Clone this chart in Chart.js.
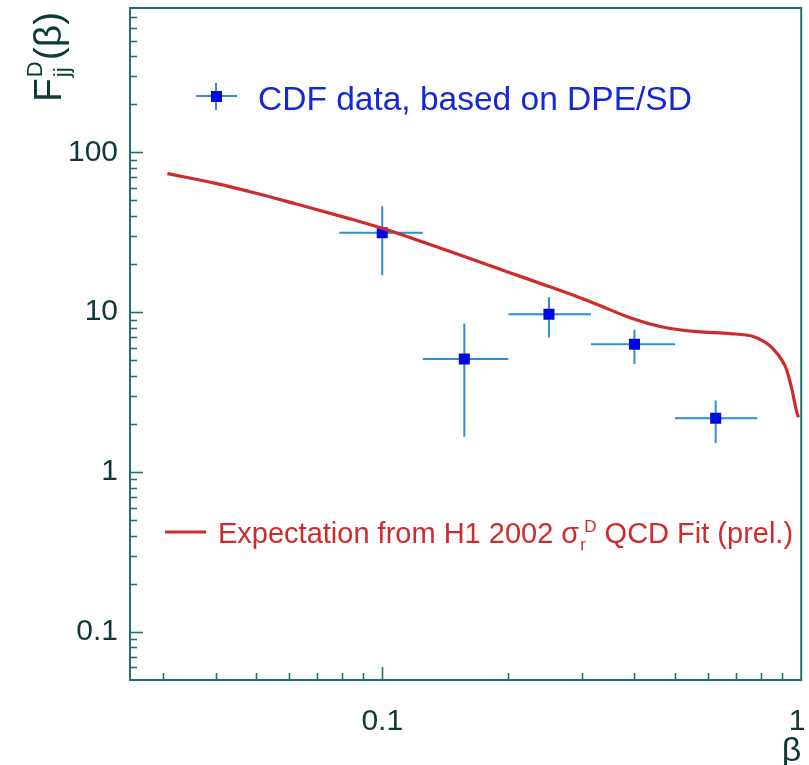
<!DOCTYPE html>
<html>
<head>
<meta charset="utf-8">
<script src="https://cdn.jsdelivr.net/npm/chart.js@4.4.0/dist/chart.umd.min.js"></script>
<style>
  html, body { margin: 0; padding: 0; background: #fff; }
  #wrap { width: 809px; height: 765px; }
</style>
</head>
<body>
<div id="wrap"><canvas id="fjjChart"></canvas></div>
<script>
// CDF data points (bin centres in beta) with bin edges and error range
const betaPoints = [0.1, 0.157, 0.25, 0.4, 0.625];
const fPoints = [31.4, 5.1, 9.7, 6.3, 2.17];
const betaLow = [0.079, 0.125, 0.2, 0.315, 0.5];
const betaHigh = [0.125, 0.2, 0.315, 0.5, 0.785];
const fLow = [17.0, 1.66, 6.95, 4.74, 1.52];
const fHigh = [46.0, 8.5, 12.4, 7.76, 2.8];

// H1 2002 QCD fit expectation
const curveBeta = [0.0307, 0.04, 0.05, 0.0624, 0.0835, 0.1, 0.125, 0.157, 0.2, 0.25,
                   0.315, 0.392, 0.47, 0.564, 0.676, 0.768, 0.82, 0.857, 0.9, 0.922,
                   0.95, 0.973, 0.985];
const curveF = [73.6, 64, 55.5, 47.5, 38.5, 33.5, 27.5, 22.3, 17.8, 14.5,
                11.6, 9.2, 8.05, 7.55, 7.35, 7.05, 6.5, 5.9, 5.0, 4.4,
                3.3, 2.45, 2.2];

const xTicks = [0.1, 1];
const xTickLabels = ['0.1', '1 '];
const yTicks = [0.1, 1, 10, 100];

const axisColor = '#23706f';
const textColor = '#0f3837';
const pointBlue = '#0008e0';
const barBlue = '#2d8ed2';
const fitRed = '#cf2a2c';

const font = 'Liberation Sans, Arial, Helvetica, sans-serif';

// frame around the plot and inward ticks on the left and bottom
const frameTicks = {
    id: 'frameTicks',
    afterDraw(chart) {
        const { ctx, chartArea: a, scales: { x, y } } = chart;
        ctx.save();
        ctx.strokeStyle = axisColor;
        ctx.lineWidth = 1.6;
        for (let e = -2; e <= 3; e++) {
            for (let m = 1; m <= 9; m++) {
                const v = m * Math.pow(10, e);
                const len = m === 1 ? 13 : 7;
                if (v > x.min && v < x.max) {
                    const px = Math.round(x.getPixelForValue(v)) + 0.5;
                    ctx.beginPath();
                    ctx.moveTo(px, a.bottom);
                    ctx.lineTo(px, a.bottom - len);
                    ctx.stroke();
                }
                if (v > y.min && v < y.max) {
                    const py = Math.round(y.getPixelForValue(v)) + 0.5;
                    ctx.beginPath();
                    ctx.moveTo(a.left, py);
                    ctx.lineTo(a.left + len, py);
                    ctx.stroke();
                }
            }
        }
        ctx.lineWidth = 2;
        ctx.strokeRect(a.left, a.top, a.right - a.left, a.bottom - a.top);
        ctx.restore();
    }
};

// horizontal (bin width) and vertical (uncertainty) bars for the CDF points
const errorBars = {
    id: 'errorBars',
    beforeDatasetsDraw(chart) {
        const { ctx, scales: { x, y } } = chart;
        ctx.save();
        ctx.strokeStyle = barBlue;
        ctx.lineWidth = 2;
        betaPoints.forEach((b, i) => {
            const px = x.getPixelForValue(b);
            const py = y.getPixelForValue(fPoints[i]);
            ctx.beginPath();
            ctx.moveTo(x.getPixelForValue(betaLow[i]), py);
            ctx.lineTo(x.getPixelForValue(betaHigh[i]), py);
            ctx.moveTo(px, y.getPixelForValue(fLow[i]));
            ctx.lineTo(px, y.getPixelForValue(fHigh[i]));
            ctx.stroke();
        });
        ctx.restore();
    }
};

// legend entries, y-axis title with sub/superscripts
const annotations = {
    id: 'annotations',
    afterDraw(chart) {
        const ctx = chart.ctx;
        ctx.save();
        ctx.textBaseline = 'alphabetic';

        // CDF entry
        ctx.strokeStyle = barBlue;
        ctx.lineWidth = 2;
        ctx.beginPath();
        ctx.moveTo(196, 96); ctx.lineTo(237, 96);
        ctx.moveTo(216, 83); ctx.lineTo(216, 110);
        ctx.stroke();
        ctx.fillStyle = pointBlue;
        ctx.fillRect(211, 91, 11, 11);
        ctx.fillStyle = '#1428d6';
        ctx.font = '33.5px ' + font;
        ctx.fillText('CDF data, based on DPE/SD', 258, 110);

        // fit entry
        ctx.strokeStyle = fitRed;
        ctx.lineWidth = 3;
        ctx.beginPath();
        ctx.moveTo(165, 532); ctx.lineTo(206, 532);
        ctx.stroke();
        ctx.fillStyle = fitRed;
        let tx = 218;
        const base = 543;
        ctx.font = '29px ' + font;
        let s = 'Expectation from H1 2002 \u03c3';
        ctx.fillText(s, tx, base);
        tx += ctx.measureText(s).width;
        ctx.font = '17px ' + font;
        ctx.fillText('r', tx + 1, base + 7);
        ctx.fillText('D', tx + 5, base - 11);
        tx += 5 + ctx.measureText('D').width;
        ctx.font = '29px ' + font;
        ctx.fillText(' QCD Fit (prel.)', tx, base);

        // y-axis title F_jj^D(beta), rotated
        ctx.translate(61, 102);
        ctx.rotate(-Math.PI / 2);
        ctx.fillStyle = textColor;
        ctx.font = '39px ' + font;
        ctx.fillText('F', 0, 0);
        let ty = ctx.measureText('F').width + 1;
        ctx.font = '22px ' + font;
        ctx.fillText('jj', ty, 8);
        ctx.fillText('D', ty, -19);
        ty += ctx.measureText('D').width + 1;
        ctx.font = '39px ' + font;
        ctx.fillText('(\u03b2)', ty, 0);

        ctx.restore();
    }
};

// keep the plot frame at fixed edges: no extra room for edge labels
function noEdgePadding(scale) {
    scale.paddingTop = 0;
    scale.paddingBottom = 0;
    scale.paddingLeft = 0;
    scale.paddingRight = 0;
}

const ctx = document.getElementById('fjjChart').getContext('2d');

new Chart(ctx, {
    type: 'scatter',
    data: {
        datasets: [
            {
                label: 'Expectation from H1 2002 QCD Fit (prel.)',
                data: curveBeta.map((b, i) => ({ x: b, y: curveF[i] })),
                showLine: true,
                borderColor: fitRed,
                borderWidth: 3.2,
                pointRadius: 0,
                cubicInterpolationMode: 'monotone',
                fill: false
            },
            {
                label: 'CDF data, based on DPE/SD',
                data: betaPoints.map((b, i) => ({ x: b, y: fPoints[i] })),
                pointStyle: 'rect',
                pointRadius: 7.8,
                backgroundColor: pointBlue,
                borderColor: pointBlue,
                borderWidth: 0
            }
        ]
    },
    options: {
        responsive: true,
        maintainAspectRatio: false,
        animation: false,
        layout: {
            padding: { top: 8, right: 4, left: 0, bottom: 0 }
        },
        plugins: {
            legend: { display: false },
            tooltip: { enabled: false }
        },
        scales: {
            x: {
                type: 'logarithmic',
                min: 0.025,
                max: 1,
                afterBuildTicks: (scale) => {
                    scale.ticks = xTicks.map(v => ({ value: v }));
                },
                afterFit: (scale) => {
                    scale.height = 85;
                    noEdgePadding(scale);
                },
                grid: { display: false, drawTicks: false },
                border: { display: false },
                ticks: {
                    color: textColor,
                    font: { family: font, size: 30 },
                    padding: 24,
                    maxRotation: 0,
                    autoSkip: false,
                    callback: (v) => xTickLabels[xTicks.indexOf(v)] ?? ''
                },
                title: {
                    display: true,
                    text: '\u03b2',
                    align: 'end',
                    color: textColor,
                    font: { family: font, size: 34, lineHeight: 1 },
                    padding: { top: 0, bottom: -4 }
                }
            },
            y: {
                type: 'logarithmic',
                min: 0.05,
                max: 800,
                afterBuildTicks: (scale) => {
                    scale.ticks = yTicks.map(v => ({ value: v }));
                },
                afterFit: (scale) => {
                    scale.width = 130;
                    noEdgePadding(scale);
                },
                grid: { display: false, drawTicks: false },
                border: { display: false },
                ticks: {
                    color: textColor,
                    font: { family: font, size: 30 },
                    padding: 12,
                    autoSkip: false,
                    callback: (v) => String(v)
                }
            }
        }
    },
    plugins: [errorBars, frameTicks, annotations]
});
</script>
</body>
</html>
